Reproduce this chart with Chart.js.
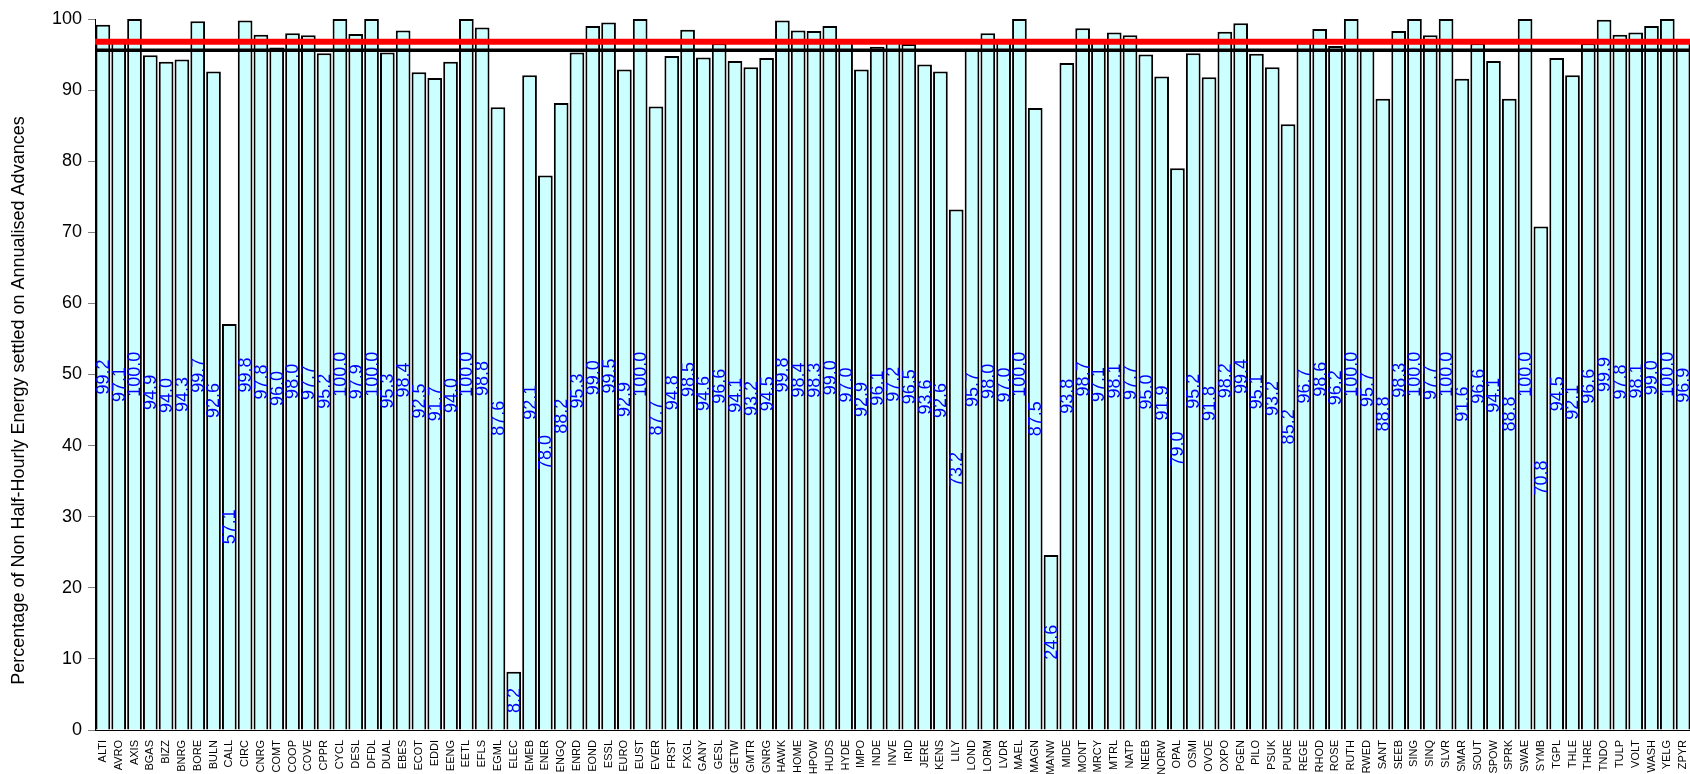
<!DOCTYPE html>
<html>
<head>
<meta charset="utf-8">
<script src="https://cdn.jsdelivr.net/npm/chart.js@4"></script>
<style>
  html, body { margin: 0; padding: 0; background: #fff; overflow: hidden; }
  #wrap { width: 1700px; height: 774px; }
</style>
</head>
<body>
<div id="wrap"><canvas id="nhhChart" width="1700" height="774"></canvas></div>
<script>
const categories = ['ALTI','AVRO','AXIS','BGAS','BIZZ','BNRG','BORE','BULN','CALL','CIRC',
  'CNRG','COMT','COOP','COVE','CPPR','CYCL','DESL','DFDL','DUAL','EBES',
  'ECOT','EDDI','EENG','EETL','EFLS','EGML','ELEC','EMEB','ENER','ENGQ',
  'ENRD','EOND','ESSL','EURO','EUST','EVER','FRST','FXGL','GANY','GESL',
  'GETW','GMTR','GNRG','HAWK','HOME','HPOW','HUDS','HYDE','IMPO','INDE',
  'INVE','IRID','JERE','KENS','LILY','LOND','LORM','LVDR','MAEL','MAGN',
  'MANW','MIDE','MONT','MRCY','MTRL','NATP','NEEB','NORW','OPAL','OSMI',
  'OVOE','OXPO','PGEN','PILO','PSUK','PURE','REGE','RHOD','ROSE','RUTH',
  'RWED','SANT','SEEB','SING','SINQ','SLVR','SMAR','SOUT','SPOW','SPRK',
  'SWAE','SYMB','TGPL','THLE','THRE','TNDO','TULP','VOLT','WASH','YELG','ZPYR'];

const percentages = [99.2, 97.1, 100.0, 94.9, 94.0, 94.3, 99.7, 92.6, 57.1, 99.8,
  97.8, 96.0, 98.0, 97.7, 95.2, 100.0, 97.9, 100.0, 95.3, 98.4,
  92.5, 91.7, 94.0, 100.0, 98.8, 87.6, 8.2, 92.1, 78.0, 88.2,
  95.3, 99.0, 99.5, 92.9, 100.0, 87.7, 94.8, 98.5, 94.6, 96.6,
  94.1, 93.2, 94.5, 99.8, 98.4, 98.3, 99.0, 97.0, 92.9, 96.1,
  97.2, 96.5, 93.6, 92.6, 73.2, 95.7, 98.0, 97.0, 100.0, 87.5,
  24.6, 93.8, 98.7, 97.1, 98.1, 97.7, 95.0, 91.9, 79.0, 95.2,
  91.8, 98.2, 99.4, 95.1, 93.2, 85.2, 96.7, 98.6, 96.2, 100.0,
  95.7, 88.8, 98.3, 100.0, 97.7, 100.0, 91.6, 96.6, 94.1, 88.8,
  100.0, 70.8, 94.5, 92.1, 96.6, 99.9, 97.8, 98.1, 99.0, 100.0, 96.9];

const yMin = 0;
const yMax = 100;
const yStep = 10;
const redLineValue = 96.8;
const blackLineValue = 95.6;
const yTitle = 'Percentage of Non Half-Hourly Energy settled on Annualised Advances';

const FONT = 'Arial, "Liberation Sans", sans-serif';

// reference lines, centred rotated value labels and the axis title
const overlayPlugin = {
  id: 'overlay',
  afterDatasetsDraw(chart) {
    const ctx = chart.ctx;
    const area = chart.chartArea;
    const y = chart.scales.y;

    ctx.save();
    ctx.lineCap = 'butt';
    ctx.strokeStyle = '#000000';
    ctx.lineWidth = 3.5;
    ctx.beginPath();
    ctx.moveTo(area.left, y.getPixelForValue(blackLineValue));
    ctx.lineTo(chart.width, y.getPixelForValue(blackLineValue));
    ctx.stroke();

    ctx.strokeStyle = '#FF0000';
    ctx.lineWidth = 6;
    ctx.beginPath();
    ctx.moveTo(area.left, y.getPixelForValue(redLineValue));
    ctx.lineTo(chart.width, y.getPixelForValue(redLineValue));
    ctx.stroke();

    const meta = chart.getDatasetMeta(0);
    ctx.fillStyle = '#0000FF';
    ctx.font = '18px ' + FONT;
    ctx.textAlign = 'center';
    ctx.textBaseline = 'middle';
    meta.data.forEach((bar, i) => {
      ctx.save();
      ctx.translate(bar.x, (bar.y + bar.base) / 2);
      ctx.rotate(-Math.PI / 2);
      ctx.fillText(percentages[i].toFixed(1), 0, 1);
      ctx.restore();
    });

    // axis title sits a little below the plot centre, as in the original
    ctx.fillStyle = '#000000';
    ctx.font = '18px ' + FONT;
    ctx.save();
    ctx.translate(19, (area.top + area.bottom) / 2 + 26);
    ctx.rotate(-Math.PI / 2);
    ctx.fillText(yTitle, 0, 0);
    ctx.restore();
    ctx.restore();
  }
};

const ctx = document.getElementById('nhhChart').getContext('2d');

new Chart(ctx, {
  type: 'bar',
  data: {
    labels: categories,
    datasets: [{
      data: percentages,
      backgroundColor: '#CCFFFF',
      borderColor: '#000000',
      borderWidth: 2,
      categoryPercentage: 0.93,
      barPercentage: 1.0
    }]
  },
  options: {
    responsive: false,
    animation: false,
    devicePixelRatio: 1,
    layout: { padding: { top: 19, right: 9, left: 0, bottom: 0 } },
    plugins: {
      legend: { display: false },
      tooltip: { enabled: false }
    },
    scales: {
      x: {
        grid: { display: false },
        border: { display: true, color: '#000000', width: 1 },
        ticks: {
          autoSkip: false,
          minRotation: 90,
          maxRotation: 90,
          padding: 2,
          color: '#000000',
          font: { family: FONT, size: 11 }
        },
        afterFit(scale) { scale.height = 44; }
      },
      y: {
        min: yMin,
        max: yMax,
        grid: {
          drawOnChartArea: false,
          drawTicks: true,
          tickLength: 7,
          tickColor: '#808080'
        },
        border: { display: true, color: '#000000', width: 1 },
        ticks: {
          stepSize: yStep,
          padding: 6,
          color: '#000000',
          font: { family: FONT, size: 18 }
        },
        afterFit(scale) { scale.width = 95; }
      }
    }
  },
  plugins: [overlayPlugin]
});
</script>
</body>
</html>
